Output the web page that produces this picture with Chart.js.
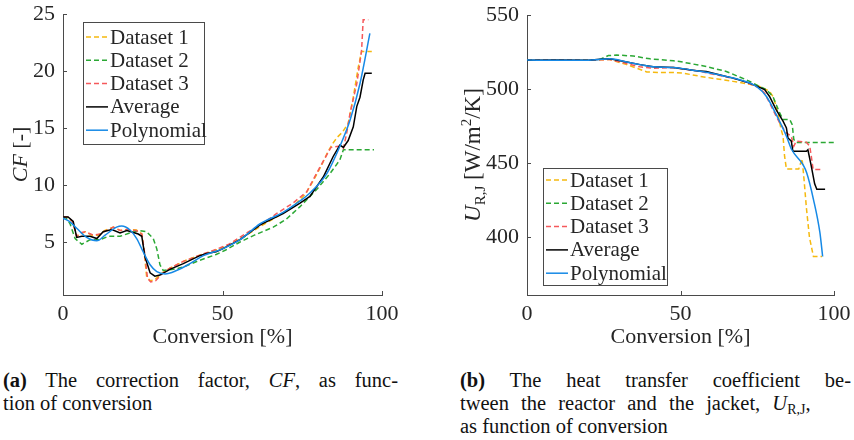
<!DOCTYPE html>
<html>
<head>
<meta charset="utf-8">
<script src="https://cdn.jsdelivr.net/npm/chart.js@4/dist/chart.umd.min.js"></script>
<style>
body { margin:0; background:#fff; width:854px; height:440px; overflow:hidden; position:relative; font-family:"Liberation Serif", serif; color:#111; }
.box { position:absolute; top:0; height:360px; }
#boxA { left:0; width:427px; }
#boxB { left:440px; width:414px; }
.cap { position:absolute; font-size:20.5px; line-height:23px; }
.full { text-align:justify; text-align-last:justify; }
.wide { word-spacing:7px; }
sub { font-size:14px; line-height:0; vertical-align:-4px; }
</style>
</head>
<body>
<div class="box" id="boxA"><canvas id="cfChart"></canvas></div>
<div class="box" id="boxB"><canvas id="uChart"></canvas></div>
<div class="cap" style="left:3px; top:369px; width:395px;">
  <div class="full"><b>(a)</b> The correction factor, <i>CF</i>, as func-</div>
  <div>tion of conversion</div>
</div>
<div class="cap" style="left:460px; top:369px; width:391px;">
  <div class="full"><b>(b)</b> The heat transfer coefficient be-</div>
  <div class="wide">tween the reactor and the jacket, <i>U</i><sub>R,J</sub>,</div>
  <div>as function of conversion</div>
</div>
<script>
var seriesLabels = ['Dataset 1', 'Dataset 2', 'Dataset 3', 'Average', 'Polynomial'];
var xTicks = [0, 50, 100];

// correction factor CF vs conversion
var cfConv1 = [0, 1.5, 3, 4.3, 5.5, 7, 9, 11, 13, 15.8, 18, 20, 23, 24.7, 25.4, 26.2, 27.3, 28.8, 30.9, 33.5, 37.7, 42.9, 48, 52, 57, 62, 67, 72, 76, 78.5, 81, 83, 84.7, 86, 87.5, 89.4, 91, 92.6, 93.6, 96.8];
var cfData1 = [7.2, 7.2, 6.8, 5.5, 5.7, 5.9, 5.6, 5.6, 6.0, 6.3, 6.0, 6.1, 6.05, 5.7, 4.3, 2.0, 1.6, 1.7, 2.25, 2.7, 3.3, 3.85, 4.3, 4.7, 5.5, 6.4, 7.2, 8.1, 9.2, 10.4, 11.7, 12.9, 13.7, 14.2, 14.6, 15.4, 17.7, 20.4, 21.7, 21.7];
var cfConv2 = [0, 1, 2.2, 3.8, 5.9, 8.5, 11.6, 14.2, 17.9, 21, 24.1, 26.2, 28.3, 29.4, 30.4, 31.4, 34.6, 37.7, 42.9, 48, 51, 55.5, 60, 65.9, 70, 74.3, 79.5, 83.7, 86.8, 87.9, 97.5];
var cfData2 = [7.2, 7.1, 6.6, 5.3, 4.8, 5.2, 5.2, 5.5, 5.5, 5.8, 6.0, 5.9, 5.3, 4.4, 3.0, 2.5, 2.6, 2.8, 3.4, 3.9, 4.3, 5.0, 5.6, 6.3, 7.0, 8.1, 9.6, 11.0, 12.2, 13.1, 13.1];
var cfConv3 = [0, 1.5, 3, 4.3, 5.5, 6.9, 9.6, 11.6, 13.5, 15.8, 18, 20, 23, 24.7, 25.6, 26.5, 27.5, 29, 31, 33.5, 37.7, 42.9, 48, 52, 57.6, 62, 67, 72, 76.4, 80.6, 84, 86.3, 87.9, 88.9, 90, 92.1, 93.6, 94.1, 95.7];
var cfData3 = [7.2, 7.2, 6.8, 5.5, 5.8, 5.9, 5.6, 5.7, 6.0, 6.3, 6.0, 6.1, 6.0, 5.7, 4.0, 1.8, 1.5, 1.6, 2.2, 2.7, 3.3, 3.85, 4.35, 4.8, 5.8, 6.5, 7.5, 8.4, 9.4, 11.6, 13.3, 13.4, 13.2, 14.5, 16.3, 18.9, 21.8, 24.5, 24.5];
var cfConvAvg = [0, 1.6, 3.2, 4.3, 5.9, 8.5, 10.6, 12.6, 15.3, 17.9, 20, 23.6, 24.7, 25.7, 27.3, 28.8, 30.4, 33.5, 37.7, 42.9, 45, 48, 50, 55.5, 61.8, 69, 74.3, 77.4, 81.6, 84.7, 86.8, 87.9, 89.4, 91, 92.1, 93.1, 94.1, 94.7, 96.8];
var cfAvg = [7.2, 7.2, 6.8, 5.4, 5.5, 5.5, 5.3, 5.9, 6.1, 5.8, 6.0, 5.7, 5.5, 3.7, 2.3, 2.0, 2.1, 2.6, 3.1, 3.8, 4.0, 4.15, 4.4, 5.2, 6.5, 7.5, 8.4, 9.0, 10.7, 12.5, 13.5, 13.3, 13.9, 15.1, 16.9, 17.7, 19.2, 19.8, 19.8];
var cfConvPoly = [0, 2, 4.3, 7.4, 10.6, 13.2, 16.8, 18.4, 21, 23.1, 25.2, 27.3, 29.4, 32, 35.6, 39.8, 44, 50, 55.5, 61.8, 69, 74.3, 77.4, 82.7, 86.8, 90, 93.1, 96.2];
var cfPoly = [7.1, 6.8, 6.2, 5.4, 5.1, 5.6, 6.3, 6.4, 6.05, 5.3, 4.1, 3.0, 2.4, 2.2, 2.5, 3.1, 3.8, 4.4, 5.2, 6.6, 7.6, 8.6, 9.3, 11.0, 13.4, 15.7, 18.9, 23.3];
var cfTicks = [5, 10, 15, 20, 25];

// heat transfer coefficient U_R,J vs conversion
var uConv1 = [0, 10, 20, 27, 32.5, 39, 43.4, 47.7, 50.8, 56.4, 62, 67.1, 72, 75.8, 79, 80.1, 81.2, 82.8, 83.4, 83.9, 84.5, 88.5, 89.6, 90.2, 91, 92, 92.8, 93.3, 96.1];
var uData1 = [519.5, 519.6, 519.5, 520, 516.5, 511.6, 511.2, 511.2, 510.8, 508.6, 506.8, 505.2, 503.5, 501.8, 498.4, 495, 488.3, 472.6, 468.2, 454.7, 446, 446, 453, 440, 420, 400, 392, 387, 387];
var uConv2 = [0, 10, 20, 23.8, 26.5, 29.2, 34.6, 40.1, 47.7, 49.7, 56.4, 58.4, 64.9, 71.4, 78, 80.1, 82.3, 83.4, 85.6, 86.4, 86.9, 87.7, 100];
var uData2 = [519.5, 519.6, 519.5, 520, 522.6, 523, 522.3, 520.4, 519.1, 518.6, 516, 515.2, 511.9, 506.3, 499.6, 495, 483.9, 479.4, 479.4, 476, 466, 464, 464];
var uConv3 = [0, 10, 20, 27, 32.5, 36.8, 41.1, 47.7, 55.3, 62, 69.3, 75.8, 77.4, 80.1, 82.3, 84.5, 86.1, 86.9, 87.7, 91, 92.1, 92.6, 93.2, 96.4];
var uData3 = [519.5, 519.6, 519.5, 520, 517.2, 515, 514, 514.5, 512.3, 509.5, 506.3, 500.7, 497.3, 486.1, 477.1, 470.4, 468.2, 461.4, 464.8, 464.1, 461.4, 454.7, 445.7, 445.7];
var uConvAvg = [0, 10, 20, 23.8, 27, 32.5, 36.8, 41.1, 47.7, 55.3, 58.4, 67.1, 72.5, 77.4, 79, 81.2, 83.4, 84.5, 85, 86.1, 86.6, 91, 91.5, 92.6, 93.7, 94.4, 97.1];
var uAvg = [519.5, 519.6, 519.5, 520.1, 520.4, 518.3, 516.5, 515, 514.5, 512.3, 511.9, 507.4, 504, 499.6, 495, 486, 478.3, 473.8, 467, 464.8, 458, 458, 459, 448, 436, 432.3, 432.3];
var uConvPoly = [0, 10, 20, 24, 27, 32.5, 36.8, 41.1, 47.6, 55.3, 62, 69.3, 74.7, 78, 81.2, 84.5, 86.2, 89.9, 91.1, 93.3, 95.4, 96.3];
var uPoly = [519.6, 519.4, 519.5, 520.1, 520.4, 518.3, 516.5, 515, 514.5, 512.3, 509.8, 506.3, 501.8, 495, 482.7, 468.2, 459.2, 449, 443.5, 425.6, 403.2, 387];
var uTicks = [400, 450, 500, 550];

var colors = ['#F5B90F', '#2BA834', '#F5595B', '#000000', '#1689E6'];
var dashes = [[5, 3], [5, 3], [5, 3], [], []];
var axisColor = '#4a4a4a';
var textColor = '#262626';
var fontFamily = '"Liberation Serif", serif';

var toPoints = function(xs, ys) {
    return xs.map(function(v, i) { return {x: v, y: ys[i]}; });
};

var makeDatasets = function(xsList, ysList) {
    return xsList.map(function(xs, i) {
        return {
            label: seriesLabels[i],
            data: toPoints(xs, ysList[i]),
            borderColor: colors[i],
            borderWidth: 1.5,
            borderDash: dashes[i],
            pointRadius: 0,
            fill: false,
            tension: 0,
            cubicInterpolationMode: i === 4 ? 'monotone' : 'default',
            order: 5 - i
        };
    });
};

var boxLegend = {
    id: 'boxLegend',
    afterDraw: function(chart, args, opts) {
        var ctx = chart.ctx;
        ctx.save();
        ctx.fillStyle = '#fff';
        ctx.fillRect(opts.x, opts.y, opts.w, opts.h);
        ctx.strokeStyle = axisColor;
        ctx.lineWidth = 1;
        ctx.strokeRect(opts.x + 0.5, opts.y + 0.5, opts.w, opts.h);
        ctx.font = '21px ' + fontFamily;
        ctx.textBaseline = 'middle';
        chart.data.datasets.forEach(function(ds, i) {
            var cy = opts.y + opts.first + i * opts.step;
            ctx.strokeStyle = ds.borderColor;
            ctx.lineWidth = ds.borderWidth;
            ctx.setLineDash(ds.borderDash);
            ctx.beginPath();
            ctx.moveTo(opts.x + 3, cy);
            ctx.lineTo(opts.x + 25, cy);
            ctx.stroke();
            ctx.setLineDash([]);
            ctx.fillStyle = textColor;
            ctx.fillText(ds.label, opts.x + 27, cy + 1);
        });
        ctx.restore();
    }
};

// rotated y title with mixed italic / sub / superscript parts
var richTitle = {
    id: 'richTitle',
    afterDraw: function(chart, args, opts) {
        var ctx = chart.ctx, area = chart.chartArea;
        ctx.save();
        ctx.translate(opts.x, (area.top + area.bottom) / 2);
        ctx.rotate(-Math.PI / 2);
        ctx.fillStyle = textColor;
        ctx.textBaseline = 'alphabetic';
        var total = 0;
        opts.parts.forEach(function(p) {
            ctx.font = p.font + ' ' + fontFamily;
            total += ctx.measureText(p.t).width;
        });
        var x = -total / 2;
        opts.parts.forEach(function(p) {
            ctx.font = p.font + ' ' + fontFamily;
            ctx.fillText(p.t, x, 7 + (p.dy || 0));
            x += ctx.measureText(p.t).width;
        });
        ctx.restore();
    }
};

// MATLAB-like inward tick marks
var inTicks = {
    id: 'inTicks',
    afterDraw: function(chart) {
        var ctx = chart.ctx, sx = chart.scales.x, sy = chart.scales.y, a = chart.chartArea;
        ctx.save();
        ctx.strokeStyle = axisColor;
        ctx.lineWidth = 1;
        ctx.beginPath();
        sx.ticks.forEach(function(t) {
            var px = Math.round(sx.getPixelForValue(t.value)) + 0.5;
            ctx.moveTo(px, a.bottom);
            ctx.lineTo(px, a.bottom - 4);
        });
        sy.ticks.forEach(function(t) {
            var py = Math.round(sy.getPixelForValue(t.value)) + 0.5;
            ctx.moveTo(a.left, py);
            ctx.lineTo(a.left + 4, py);
        });
        ctx.stroke();
        ctx.restore();
    }
};

var makeChart = function(id, datasets, yMin, yMax, yTicks, yWidth, pad, legendOpts, titleOpts) {
    var tickFont = {family: fontFamily, size: 22};
    return new Chart(document.getElementById(id), {
        type: 'line',
        data: {datasets: datasets},
        plugins: [boxLegend, richTitle, inTicks],
        options: {
            animation: false,
            responsive: true,
            maintainAspectRatio: false,
            layout: {padding: {top: pad.top, right: pad.right, left: 0, bottom: 0}},
            plugins: {
                legend: {display: false},
                tooltip: {enabled: false},
                boxLegend: legendOpts,
                richTitle: titleOpts
            },
            scales: {
                x: {
                    type: 'linear', min: 0, max: 100,
                    grid: {display: false, drawTicks: false},
                    border: {display: true, color: axisColor, width: 1},
                    ticks: {font: tickFont, color: textColor, padding: 6, maxRotation: 0},
                    afterBuildTicks: function(s) { s.ticks = xTicks.map(function(v) { return {value: v}; }); },
                    afterFit: function(s) { s.height = 65; s.paddingLeft = 0; s.paddingRight = 0; },
                    title: {display: true, text: 'Conversion [%]', font: tickFont, color: textColor, padding: {top: 0, bottom: 10}}
                },
                y: {
                    type: 'linear', min: yMin, max: yMax,
                    grid: {display: false, drawTicks: false},
                    border: {display: true, color: axisColor, width: 1},
                    ticks: {font: tickFont, color: textColor, padding: 8},
                    afterBuildTicks: function(s) { s.ticks = yTicks.map(function(v) { return {value: v}; }); },
                    afterFit: function(s) { s.width = yWidth; s.paddingTop = 0; s.paddingBottom = 0; }
                }
            }
        }
    });
};

makeChart('cfChart',
    makeDatasets([cfConv1, cfConv2, cfConv3, cfConvAvg, cfConvPoly], [cfData1, cfData2, cfData3, cfAvg, cfPoly]),
    0.35, 25, cfTicks, 63, {top: 14, right: 45},
    {x: 83, y: 22, w: 121, h: 122, first: 15, step: 23.3},
    {x: 20, parts: [{t: 'CF', font: 'italic 22px'}, {t: ' [-]', font: '22px'}]});

makeChart('uChart',
    makeDatasets([uConv1, uConv2, uConv3, uConvAvg, uConvPoly], [uData1, uData2, uData3, uAvg, uPoly]),
    361, 550, uTicks, 87, {top: 15, right: 20},
    {x: 103, y: 168, w: 124, h: 117, first: 12, step: 23.3},
    {x: 33, parts: [{t: 'U', font: 'italic 23px'}, {t: 'R,J', font: '15px', dy: 5}, {t: ' [W/m', font: '23px'}, {t: '2', font: '15px', dy: -9}, {t: '/K]', font: '23px'}]});
</script>
</body>
</html>
